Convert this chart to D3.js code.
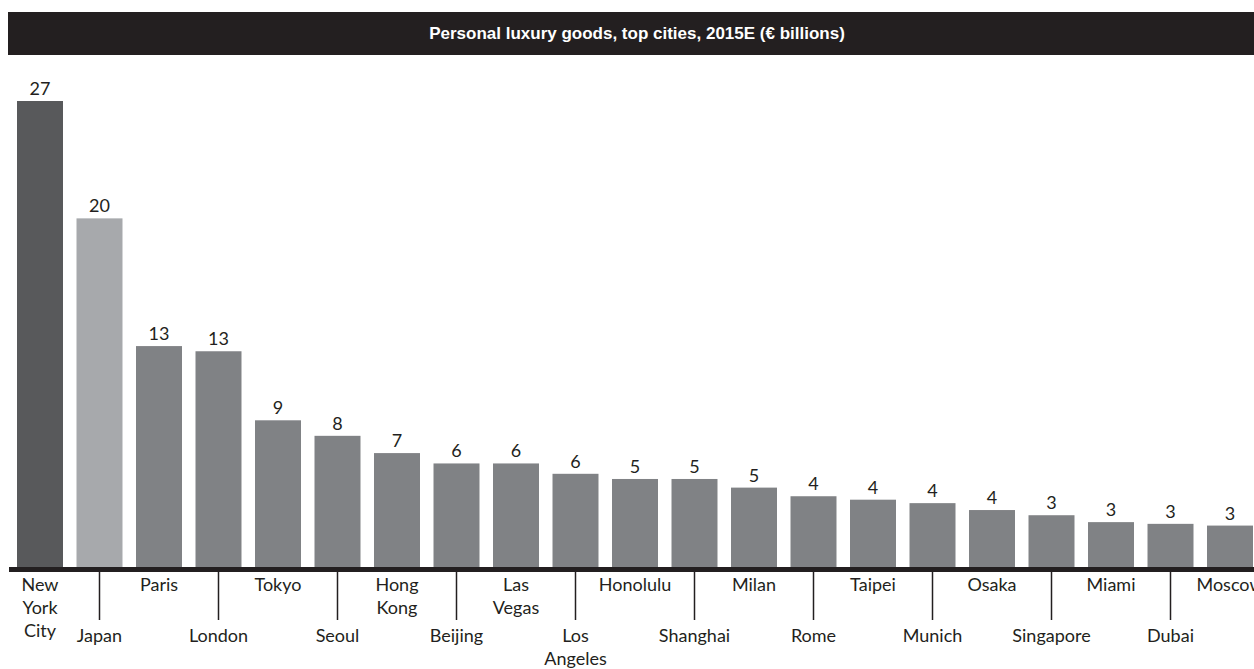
<!DOCTYPE html>
<html>
<head>
<meta charset="utf-8">
<script src="https://cdn.jsdelivr.net/npm/d3@7"></script>
<style>
  body { margin: 0; background: #fff; }
  svg { display: block; }
  .city, .val { font-family: Lato, "Open Sans", sans-serif; fill: #231f20; }
</style>
</head>
<body>
<svg></svg>
<script>
// Personal luxury goods, top cities, 2015E (€ billions)
const cities = ['New York City', 'Japan', 'Paris', 'London', 'Tokyo', 'Seoul', 'Hong Kong',
    'Beijing', 'Las Vegas', 'Los Angeles', 'Honolulu', 'Shanghai', 'Milan', 'Rome', 'Taipei',
    'Munich', 'Osaka', 'Singapore', 'Miami', 'Dubai', 'Moscow'];
// label line breaks as printed
const cityLines = [['New', 'York', 'City'], ['Japan'], ['Paris'], ['London'], ['Tokyo'], ['Seoul'],
    ['Hong', 'Kong'], ['Beijing'], ['Las', 'Vegas'], ['Los', 'Angeles'], ['Honolulu'], ['Shanghai'],
    ['Milan'], ['Rome'], ['Taipei'], ['Munich'], ['Osaka'], ['Singapore'], ['Miami'], ['Dubai'], ['Moscow']];
const values = [27.0, 20.2, 12.8, 12.5, 8.5, 7.6, 6.6, 6.0, 6.0, 5.4, 5.1, 5.1, 4.6, 4.1, 3.9,
    3.7, 3.3, 3.0, 2.6, 2.5, 2.4];
// labels printed above the bars
const valueLabels = ['27', '20', '13', '13', '9', '8', '7', '6', '6', '6', '5', '5', '5', '4', '4',
    '4', '4', '3', '3', '3', '3'];

let width = 1254,
    height = 669,
    baseY = 567;

const svg = d3.select('svg')
    .attr('width', width)
    .attr('height', height);

// title band
svg.append('rect')
    .attr('x', 8).attr('y', 12)
    .attr('width', width - 8).attr('height', 43)
    .attr('fill', '#231f20');
svg.append('text')
    .attr('x', 637).attr('y', 39)
    .attr('text-anchor', 'middle')
    .attr('fill', '#fff')
    .attr('font-family', '"Liberation Sans Narrow", "Liberation Sans", sans-serif')
    .attr('font-weight', 'bold')
    .attr('font-size', 17)
    .text('Personal luxury goods, top cities, 2015E (€ billions)');

const x = d3.scaleBand()
    .domain(cities)
    .range([17, 1253])
    .paddingInner(0.227)
    .paddingOuter(0);

const y = d3.scaleLinear()
    .domain([0, 27])
    .range([baseY, 101]);

const barColor = (d, i) => i === 0 ? '#58595b' : (i === 1 ? '#a7a9ac' : '#808285');

svg.append('g')
  .selectAll('rect')
  .data(values)
  .enter().append('rect')
    .attr('x', (d, i) => x(cities[i]))
    .attr('y', (d) => y(d))
    .attr('width', x.bandwidth())
    .attr('height', (d) => baseY - y(d))
    .attr('fill', barColor);

svg.append('g')
  .selectAll('text')
  .data(values)
  .enter().append('text')
    .attr('class', 'val')
    .attr('x', (d, i) => x(cities[i]) + x.bandwidth() / 2)
    .attr('y', (d) => y(d) - 6)
    .attr('text-anchor', 'middle')
    .attr('font-size', 18)
    .text((d, i) => valueLabels[i]);

// baseline
svg.append('rect')
    .attr('x', 9).attr('y', baseY)
    .attr('width', width - 9).attr('height', 5)
    .attr('fill', '#231f20');

// category labels, alternating rows with leader lines for the lower row
const labels = svg.append('g');
cities.forEach((c, i) => {
    let cx = x(c) + x.bandwidth() / 2;
    let lower = i % 2 === 1;
    if (lower) {
        labels.append('line')
            .attr('x1', cx).attr('x2', cx)
            .attr('y1', baseY + 5).attr('y2', 620)
            .attr('stroke', '#231f20')
            .attr('stroke-width', 1.5);
    }
    let t = labels.append('text')
        .attr('class', 'city')
        .attr('text-anchor', 'middle')
        .attr('font-size', 18);
    cityLines[i].forEach((line, j) => {
        t.append('tspan')
            .attr('x', cx)
            .attr('y', (lower ? 642 : 591) + j * 23)
            .text(line);
    });
});
</script>
</body>
</html>
